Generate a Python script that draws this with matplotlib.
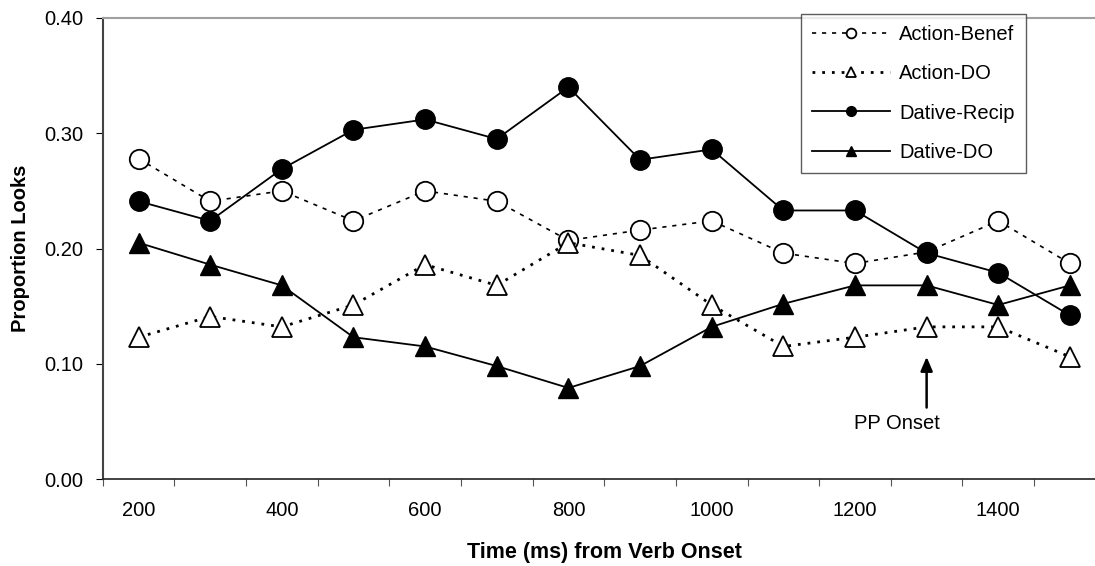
import numpy as np
import matplotlib
matplotlib.use("Agg")
import matplotlib.pyplot as plt

plt.rcParams['font.family'] = ['Liberation Sans', 'DejaVu Sans']

# Data (proportion of looks per 100 ms bin)
times = [200, 300, 400, 500, 600, 700, 800, 900, 1000, 1100, 1200, 1300, 1400, 1500]
action_benef = [0.278, 0.241, 0.250, 0.224, 0.250, 0.241, 0.207, 0.216, 0.224, 0.196, 0.187, 0.197, 0.224, 0.187]
action_do = [0.123, 0.141, 0.132, 0.151, 0.186, 0.168, 0.205, 0.194, 0.151, 0.115, 0.123, 0.132, 0.132, 0.106]
dative_recip = [0.241, 0.224, 0.269, 0.303, 0.312, 0.295, 0.340, 0.277, 0.286, 0.233, 0.233, 0.196, 0.179, 0.142]
dative_do = [0.205, 0.186, 0.168, 0.123, 0.115, 0.098, 0.079, 0.098, 0.132, 0.152, 0.168, 0.168, 0.151, 0.168]

fig = plt.figure(figsize=(10.95, 5.66), dpi=100)
ax = fig.add_axes([0.0938, 0.1537, 0.916, 0.8145])

x = np.arange(len(times))

ax.plot(x, action_benef, color='black', lw=1.2, ls=(0, (2.5, 3.5)),
        marker='o', ms=14, mfc='white', mec='black', mew=1.3, label='Action-Benef')
ax.plot(x, action_do, color='black', lw=2.0, ls=(0, (1, 2.5)),
        marker='^', ms=15, mfc='white', mec='black', mew=1.3, label='Action-DO')
ax.plot(x, dative_recip, color='black', lw=1.3, ls='-',
        marker='o', ms=14, mfc='black', mec='black', label='Dative-Recip')
ax.plot(x, dative_do, color='black', lw=1.3, ls='-',
        marker='^', ms=15, mfc='black', mec='black', label='Dative-DO')

# category axis, ticks between categories like Excel
ax.set_xlim(-0.5, len(times) - 0.5)
ax.set_xticks(np.arange(-0.5, len(times), 1))
ax.set_xticklabels([])
ax.set_xticks(x[::2], minor=True)
ax.set_xticklabels([str(t) for t in times[::2]], minor=True, fontsize=14.5)
ax.tick_params(axis='x', which='major', length=5, direction='out', color='#555555')
ax.tick_params(axis='x', which='minor', length=0, pad=16)

ax.set_ylim(0, 0.40)
ax.set_yticks([0, 0.1, 0.2, 0.3, 0.4])
ax.set_yticklabels(['0.00', '0.10', '0.20', '0.30', '0.40'], fontsize=14.5)
ax.tick_params(axis='y', length=5, direction='out', pad=9)

ax.spines['left'].set_color('#444444')
ax.spines['left'].set_linewidth(1.5)
ax.spines['bottom'].set_color('#222222')
ax.spines['bottom'].set_linewidth(1.2)
ax.spines['top'].set_color('#a0a0a0')
ax.spines['top'].set_linewidth(1.5)
ax.spines['right'].set_visible(False)

ax.set_ylabel('Proportion Looks', fontsize=14.5, fontweight='bold', labelpad=10)
ax.set_xlabel('Time (ms) from Verb Onset', fontsize=15.5, fontweight='bold', labelpad=16)

# PP onset marker
ax.annotate('', xy=(11, 0.106), xytext=(11, 0.062),
            arrowprops=dict(arrowstyle='-|>,head_width=0.3,head_length=0.7',
                            color='black', lw=1.8,
                            shrinkA=0, shrinkB=0, mutation_scale=12))
ax.text(10.58, 0.048, 'PP Onset', ha='center', va='center', fontsize=14.5)

leg = ax.legend(loc='upper left', bbox_to_anchor=(0.7312, 0.975),
                bbox_transform=fig.transFigure, borderaxespad=0,
                fontsize=14.5, frameon=True, fancybox=False, edgecolor='#333333',
                handlelength=3.9, handletextpad=0.45, labelspacing=1.0,
                borderpad=0.55, markerscale=0.5)
leg.get_frame().set_linewidth(1.0)

fig.savefig('out.png', dpi=100)
